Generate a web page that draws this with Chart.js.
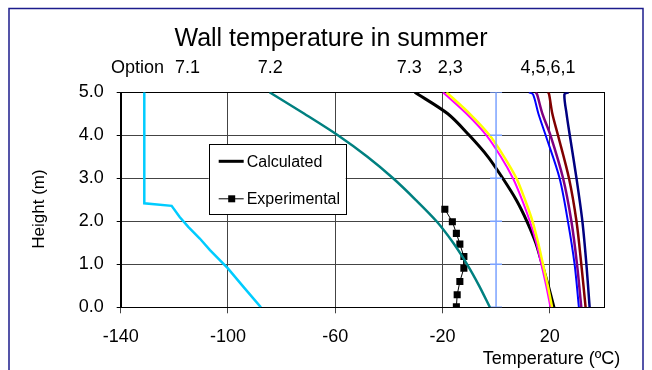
<!DOCTYPE html>
<html>
<head>
<meta charset="utf-8">
<script src="https://cdn.jsdelivr.net/npm/chart.js@4/dist/chart.umd.min.js"></script>
<style>
  html, body { margin: 0; padding: 0; background: #fff; }
  #wrap { position: relative; width: 652px; height: 370px; }
  canvas { display: block; }
</style>
</head>
<body>
<div id="wrap"><canvas id="c" width="652" height="370"></canvas></div>
<script>
// ---------- data ----------
const titleText = 'Wall temperature in summer';
const xTitle = 'Temperature (ºC)';
const yTitle = 'Height (m)';
const xTicks = [-140, -100, -60, -20, 20];

// option labels above the curves (text, x position in °C)
const optionLabels = ['Option', '7.1', '7.2', '7.3', '2,3', '4,5,6,1'];
const optionLabelX = [-133.7, -115.1, -84.2, -32.4, -17.1, 19.4];

// Option 7.1 (cyan)
const h71 = [5.0, 2.42, 2.36, 2.1, 1.87, 1.6, 1.33, 0.91, 0.48, 0.0];
const t71 = [-131.2, -131.2, -121.0, -118.0, -114.8, -110.5, -106.7, -100.1, -94.3, -87.7];
// Option 7.2 (teal)
const h72 = [5.0, 4.5, 4.0, 3.5, 3.0, 2.5, 2.0, 1.5, 1.0, 0.5, 0.0];
const t72 = [-84.5, -71.5, -59.0, -48.0, -38.4, -30.0, -22.2, -16.0, -10.8, -6.3, -2.3];
// Option 7.3 (calculated, black)
const h73 = [5.0, 4.5, 4.0, 3.5, 3.0, 2.5, 2.0, 1.5, 1.0, 0.5, 0.0];
const t73 = [-30.3, -18.0, -10.0, -3.0, 2.5, 7.5, 11.5, 14.8, 17.2, 19.5, 21.6];
// Options 2 and 3 (magenta, yellow)
const hOpt = [5.0, 4.5, 4.0, 3.5, 3.0, 2.5, 2.0, 1.5, 1.0, 0.5, 0.0];
const t2 = [-19.8, -11.0, -3.6, 1.8, 6.3, 9.7, 12.6, 15.0, 16.9, 18.7, 20.3];
const t3 = [-18.5, -9.8, -2.4, 3.0, 7.6, 10.8, 13.6, 15.7, 17.5, 19.3, 20.9];
// Options 4, 5, 6, 1 (blue, purple, maroon, navy)
const hRight = [5.0, 4.95, 4.5, 4.0, 3.0, 2.0, 1.0, 0.0];
const t4 = [12.3, 13.8, 15.8, 18.5, 23.7, 26.8, 29.3, 30.9];
const t5 = [14.8, 15.3, 17.3, 20.3, 25.0, 28.1, 30.2, 31.8];
const t6 = [19.4, 19.8, 21.0, 23.1, 27.2, 30.0, 31.8, 33.4];
const t1 = [27.0, 25.5, 26.3, 27.5, 30.0, 32.2, 33.7, 34.9];
// light blue reference line at 0 °C
const hRef = [0, 1, 2, 3, 4, 5];
const tRef = [0, 0, 0, 0, 0, 0];
// Experimental points
const hExp = [2.28, 1.99, 1.72, 1.47, 1.18, 0.91, 0.60, 0.29, 0.01];
const tExp = [-19.1, -16.3, -14.8, -13.5, -12.0, -12.0, -13.5, -14.5, -14.8];

// legend
const legendNames = ['Calculated', 'Experimental'];

// ---------- build ----------
const FONT = "'Liberation Sans', Arial, Helvetica, sans-serif";
const pts = (t, h) => t.map((v, i) => ({ x: v, y: h[i] }));
function curve(t, h, color, width, tension) {
  return { data: pts(t, h), borderColor: color, backgroundColor: color, borderWidth: width,
    pointRadius: 0, showLine: true, tension: tension, fill: false };
}
const datasets = [
  curve(t71, h71, '#00ccff', 2.5, 0),
  curve(t72, h72, '#008080', 2.5, 0.3),
  curve(tRef, hRef, '#7ba2ff', 1.5, 0),
  curve(t3, hOpt, '#ffff00', 2.5, 0.3),
  curve(t2, hOpt, '#ff00ff', 2, 0.3),
  curve(t73, h73, '#000000', 3, 0.3),
  curve(t4, hRight, '#0000ff', 2, 0.3),
  curve(t5, hRight, '#800080', 2.5, 0.3),
  curve(t6, hRight, '#800000', 2.5, 0.3),
  curve(t1, hRight, '#000080', 2.5, 0.3),
  { data: pts(tExp, hExp), borderColor: '#000', backgroundColor: '#000', borderWidth: 1,
    showLine: true, tension: 0, pointStyle: 'rect', pointRadius: 5, pointBorderWidth: 0 }
];
// reference line has small cap marks at each metre
datasets[2].pointStyle = 'line';
datasets[2].pointRadius = 6;
datasets[2].pointBorderWidth = 1.5;

const decor = {
  id: 'decor',
  beforeDraw(chart) {
    const c = chart.ctx;
    c.save();
    c.fillStyle = '#fff';
    c.fillRect(0, 0, chart.width, chart.height);
    c.strokeStyle = '#1c1c8c';
    c.lineWidth = 1.5;
    c.strokeRect(9, 8.5, 634, 420);
    c.restore();
  },
  beforeDatasetsDraw(chart) {
    const c = chart.ctx, a = chart.chartArea;
    c.save();
    c.strokeStyle = '#000';
    c.lineWidth = 1;
    c.strokeRect(Math.round(a.left) + 0.5, Math.round(a.top) + 0.5,
      Math.round(a.right - a.left), Math.round(a.bottom - a.top));
    c.restore();
  },
  afterDatasetsDraw(chart) {
    const c = chart.ctx, a = chart.chartArea, xs = chart.scales.x;
    c.save();
    // option labels
    c.fillStyle = '#000';
    c.font = '18px ' + FONT;
    c.textAlign = 'center';
    c.textBaseline = 'alphabetic';
    optionLabels.forEach((t, i) => c.fillText(t, xs.getPixelForValue(optionLabelX[i]), a.top - 19));
    // axis titles
    c.textAlign = 'right';
    c.fillText(xTitle, a.right + 17, 363.5);
    c.save();
    c.translate(43.5, 209);
    c.rotate(-Math.PI / 2);
    c.textAlign = 'center';
    c.font = '17px ' + FONT;
    c.fillText(yTitle, 0, 0);
    c.restore();
    // legend box
    const lx = a.left + 88, ly = a.top + 52, lw = 137, lh = 70;
    c.fillStyle = '#fff';
    c.fillRect(lx, ly, lw, lh);
    c.strokeStyle = '#000';
    c.lineWidth = 1;
    c.strokeRect(Math.round(lx) + 0.5, Math.round(ly) + 0.5, lw, lh);
    c.font = '16px ' + FONT;
    c.textAlign = 'left';
    c.textBaseline = 'middle';
    c.fillStyle = '#000';
    const y1 = ly + 17, y2 = ly + 54;
    c.lineWidth = 3;
    c.beginPath(); c.moveTo(lx + 10, y1); c.lineTo(lx + 35, y1); c.stroke();
    c.fillText(legendNames[0], lx + 38, y1 + 1);
    c.lineWidth = 1;
    c.beginPath(); c.moveTo(lx + 10, y2 + 0.5); c.lineTo(lx + 35, y2 + 0.5); c.stroke();
    c.fillRect(lx + 19.5, y2 - 3, 7, 7);
    c.fillText(legendNames[1], lx + 38, y2 + 1);
    c.restore();
  }
};

new Chart(document.getElementById('c'), {
  type: 'scatter',
  data: { datasets },
  options: {
    responsive: false,
    animation: false,
    layout: { padding: { left: 58.7, right: 48.7, top: 0, bottom: 0 } },
    plugins: {
      legend: { display: false },
      tooltip: { enabled: false },
      title: {
        display: true, text: titleText, color: '#000',
        font: { family: FONT, size: 25, weight: 'normal', lineHeight: 1.2 },
        padding: { top: 24, bottom: 38.3 }
      }
    },
    scales: {
      x: {
        type: 'linear', min: -140, max: 40,
        afterBuildTicks: s => { s.ticks = xTicks.map(v => ({ value: v })); },
        afterFit: s => { s.height = 62.7; },
        grid: { color: '#444', tickColor: '#444', tickLength: 6, lineWidth: 1 },
        border: { color: '#000' },
        ticks: { color: '#000', font: { family: FONT, size: 18 }, padding: 13, maxRotation: 0, autoSkip: false }
      },
      y: {
        type: 'linear', min: 0, max: 5,
        afterFit: s => { s.width = 62; },
        grid: { color: '#444', tickColor: '#000', tickLength: 4, lineWidth: 1 },
        border: { color: '#000' },
        ticks: { stepSize: 1, color: '#000', font: { family: FONT, size: 18 }, padding: 13,
          callback: v => Number(v).toFixed(1) }
      }
    }
  },
  plugins: [decor]
});
</script>
</body>
</html>
